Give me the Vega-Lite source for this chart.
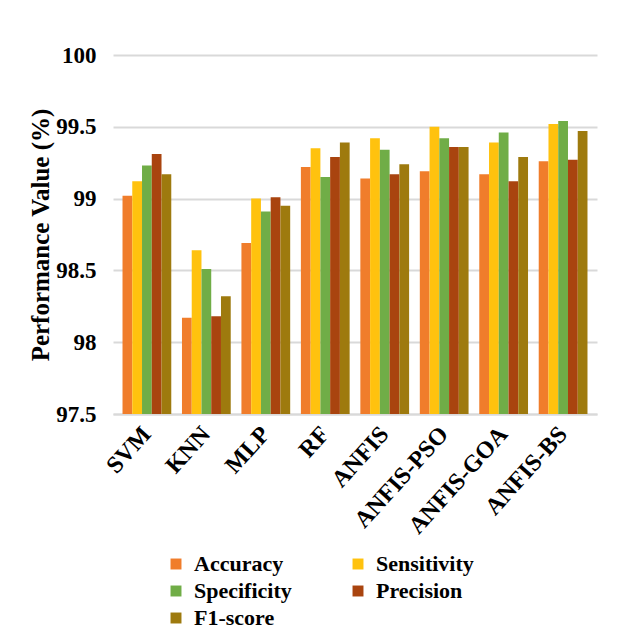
{
  "$schema": "https://vega.github.io/schema/vega-lite/v6.json",
  "width": 484,
  "height": 359,
  "padding": {"left": 28, "top": 44, "right": 5, "bottom": 5},
  "background": "white",
  "data": {"values": [
    {"model": "SVM", "metric": "Accuracy", "value": 99.02},
    {"model": "SVM", "metric": "Sensitivity", "value": 99.12},
    {"model": "SVM", "metric": "Specificity", "value": 99.23},
    {"model": "SVM", "metric": "Precision", "value": 99.31},
    {"model": "SVM", "metric": "F1-score", "value": 99.17},
    {"model": "KNN", "metric": "Accuracy", "value": 98.17},
    {"model": "KNN", "metric": "Sensitivity", "value": 98.64},
    {"model": "KNN", "metric": "Specificity", "value": 98.51},
    {"model": "KNN", "metric": "Precision", "value": 98.18},
    {"model": "KNN", "metric": "F1-score", "value": 98.32},
    {"model": "MLP", "metric": "Accuracy", "value": 98.69},
    {"model": "MLP", "metric": "Sensitivity", "value": 99.0},
    {"model": "MLP", "metric": "Specificity", "value": 98.91},
    {"model": "MLP", "metric": "Precision", "value": 99.01},
    {"model": "MLP", "metric": "F1-score", "value": 98.95},
    {"model": "RF", "metric": "Accuracy", "value": 99.22},
    {"model": "RF", "metric": "Sensitivity", "value": 99.35},
    {"model": "RF", "metric": "Specificity", "value": 99.15},
    {"model": "RF", "metric": "Precision", "value": 99.29},
    {"model": "RF", "metric": "F1-score", "value": 99.39},
    {"model": "ANFIS", "metric": "Accuracy", "value": 99.14},
    {"model": "ANFIS", "metric": "Sensitivity", "value": 99.42},
    {"model": "ANFIS", "metric": "Specificity", "value": 99.34},
    {"model": "ANFIS", "metric": "Precision", "value": 99.17},
    {"model": "ANFIS", "metric": "F1-score", "value": 99.24},
    {"model": "ANFIS-PSO", "metric": "Accuracy", "value": 99.19},
    {"model": "ANFIS-PSO", "metric": "Sensitivity", "value": 99.5},
    {"model": "ANFIS-PSO", "metric": "Specificity", "value": 99.42},
    {"model": "ANFIS-PSO", "metric": "Precision", "value": 99.36},
    {"model": "ANFIS-PSO", "metric": "F1-score", "value": 99.36},
    {"model": "ANFIS-GOA", "metric": "Accuracy", "value": 99.17},
    {"model": "ANFIS-GOA", "metric": "Sensitivity", "value": 99.39},
    {"model": "ANFIS-GOA", "metric": "Specificity", "value": 99.46},
    {"model": "ANFIS-GOA", "metric": "Precision", "value": 99.12},
    {"model": "ANFIS-GOA", "metric": "F1-score", "value": 99.29},
    {"model": "ANFIS-BS", "metric": "Accuracy", "value": 99.26},
    {"model": "ANFIS-BS", "metric": "Sensitivity", "value": 99.52},
    {"model": "ANFIS-BS", "metric": "Specificity", "value": 99.54},
    {"model": "ANFIS-BS", "metric": "Precision", "value": 99.27},
    {"model": "ANFIS-BS", "metric": "F1-score", "value": 99.47}
  ]},
  "mark": {"type": "bar", "clip": true},
  "encoding": {
    "x": {
      "field": "model", "type": "nominal", "sort": null,
      "scale": {"paddingInner": 0.18, "paddingOuter": 0.16},
      "axis": {
        "title": null, "labelAngle": -48, "labelFont": "Liberation Serif",
        "labelFontWeight": "bold", "labelFontSize": 24, "labelColor": "black",
        "ticks": false, "domain": true, "domainColor": "#D9D9D9", "domainWidth": 2, "labelPadding": 16
      }
    },
    "xOffset": {"field": "metric", "type": "nominal", "sort": ["Accuracy", "Sensitivity", "Specificity", "Precision", "F1-score"]},
    "y": {
      "field": "value", "type": "quantitative",
      "scale": {"domain": [97.5, 100], "zero": false, "nice": false},
      "axis": {
        "title": "Performance Value (%)", "values": [97.5, 98, 98.5, 99, 99.5, 100], "format": "~f",
        "labelFont": "Liberation Serif", "labelFontWeight": "bold", "labelFontSize": 23,
        "labelColor": "black", "titleFont": "Liberation Serif", "titleFontWeight": "bold",
        "titleFontSize": 25, "titleColor": "black", "ticks": false, "domain": false,
        "gridColor": "#D9D9D9", "gridWidth": 2, "labelPadding": 17, "titlePadding": 2
      }
    },
    "color": {
      "field": "metric", "type": "nominal",
      "sort": ["Accuracy", "Sensitivity", "Specificity", "Precision", "F1-score"],
      "scale": {
        "domain": ["Accuracy", "Sensitivity", "Specificity", "Precision", "F1-score"],
        "range": ["#F07D2B", "#FFC20E", "#70AD47", "#A9440F", "#9E7A0E"]
      },
      "legend": {
        "title": null, "orient": "none", "legendX": 52, "legendY": 498,
        "direction": "horizontal", "columns": 2, "columnPadding": 55, "rowPadding": 5,
        "symbolType": "square", "symbolSize": 120, "symbolStrokeWidth": 0,
        "labelFont": "Liberation Serif", "labelFontWeight": "bold", "labelFontSize": 22,
        "labelColor": "black", "labelOffset": 7
      }
    }
  },
  "config": {"view": {"stroke": null}}
}
